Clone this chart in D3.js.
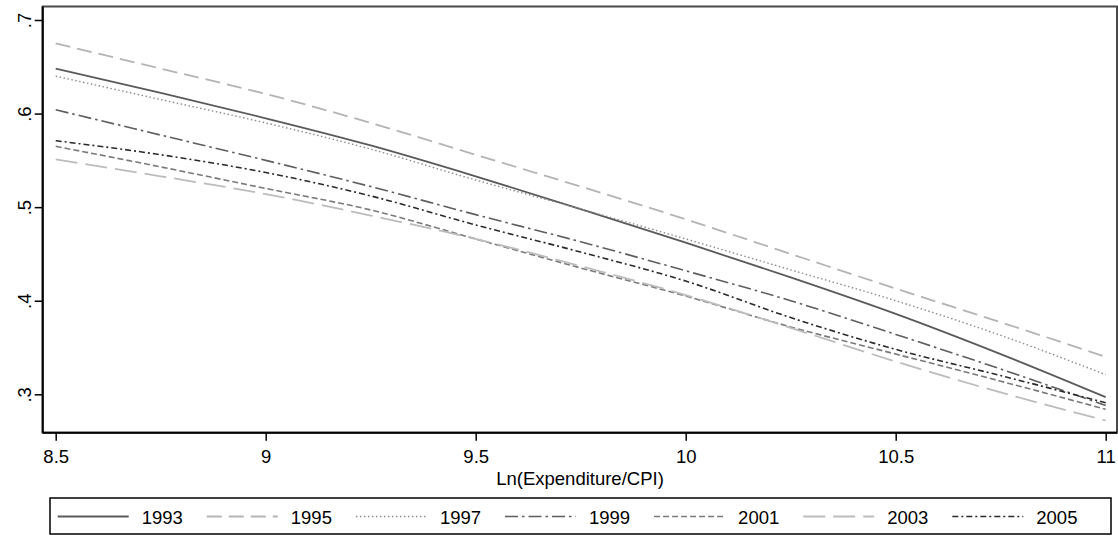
<!DOCTYPE html>
<html>
<head>
<meta charset="utf-8">
<script src="https://cdn.jsdelivr.net/npm/d3@7"></script>
<style>
  html, body { margin: 0; padding: 0; background: #fff; }
  svg { display: block; font-family: "Liberation Sans", Arial, sans-serif; }
</style>
</head>
<body>
<svg id="chart" width="1118" height="536"></svg>
<script>
// ---- data ----
const xValues = [8.5, 8.75, 9, 9.25, 9.5, 9.75, 10, 10.25, 10.5, 10.75, 11];
const s1993 = [0.648, 0.622, 0.595, 0.566, 0.533, 0.498, 0.462, 0.425, 0.386, 0.343, 0.297];
const s1995 = [0.675, 0.648, 0.621, 0.590, 0.556, 0.522, 0.487, 0.450, 0.413, 0.377, 0.340];
const s1997 = [0.640, 0.615, 0.590, 0.562, 0.529, 0.498, 0.466, 0.433, 0.400, 0.363, 0.321];
const s1999 = [0.604, 0.577, 0.550, 0.522, 0.492, 0.463, 0.432, 0.400, 0.364, 0.327, 0.288];
const s2001 = [0.565, 0.543, 0.520, 0.497, 0.466, 0.435, 0.405, 0.372, 0.343, 0.314, 0.284];
const s2003 = [0.551, 0.533, 0.514, 0.491, 0.466, 0.437, 0.406, 0.371, 0.335, 0.302, 0.272];
const s2005 = [0.571, 0.556, 0.537, 0.512, 0.481, 0.452, 0.421, 0.382, 0.348, 0.320, 0.291];
const seriesNames = ["1993", "1995", "1997", "1999", "2001", "2003", "2005"];
const xTicks = [8.5, 9, 9.5, 10, 10.5, 11];
const xTickLabels = ["8.5", "9", "9.5", "10", "10.5", "11"];
const yTicks = [0.3, 0.4, 0.5, 0.6, 0.7];
const yTickLabels = [".3", ".4", ".5", ".6", ".7"];
const xTitle = "Ln(Expenditure/CPI)";

const seriesValues = [s1993, s1995, s1997, s1999, s2001, s2003, s2005];
const styles = [
  { color: "#5a5a5a", dash: null, w: 1.8 },
  { color: "#b4b4b4", dash: "15,7", w: 1.8 },
  { color: "#8c8c8c", dash: "1.5,2.5", w: 1.4 },
  { color: "#5e5e5e", dash: "13,4,2.5,4", w: 1.6 },
  { color: "#7a7a7a", dash: "6,3", w: 1.6 },
  { color: "#bcbcbc", dash: "22,8", w: 1.8 },
  { color: "#2a2a2a", dash: "6,3,2,3", w: 1.6 }
];

// ---- layout ----
const svg = d3.select("#chart");
const plot = { left: 42.7, top: 6.5, right: 1117, bottom: 432.7 };

const x = d3.scaleLinear().domain([8.5, 11]).range([55.7, 1105.7]);
const y = d3.scaleLinear().domain([0.3, 0.7]).range([394.3, 20]);

svg.append("rect").attr("width", 1118).attr("height", 536).attr("fill", "#fff");

// frame (top & right)
svg.append("rect")
  .attr("x", plot.left).attr("y", plot.top)
  .attr("width", plot.right - plot.left).attr("height", plot.bottom - plot.top)
  .attr("fill", "none").attr("stroke", "#4a4a4a").attr("stroke-width", 2);

// lines
const line = d3.line()
  .x((d, i) => x(xValues[i]))
  .y(d => y(d))
  .curve(d3.curveMonotoneX);

seriesValues.forEach((vals, k) => {
  const st = styles[k];
  svg.append("path")
    .datum(vals)
    .attr("d", line)
    .attr("fill", "none")
    .attr("stroke", st.color)
    .attr("stroke-width", st.w)
    .attr("stroke-dasharray", st.dash);
});

// y axis
const yAxis = d3.axisLeft(y)
  .tickValues(yTicks)
  .tickFormat((d, i) => yTickLabels[i])
  .tickSize(8)
  .tickSizeOuter(0);
const gy = svg.append("g").attr("transform", `translate(${plot.left},0)`).call(yAxis);
gy.select(".domain").attr("stroke", "#000").attr("stroke-width", 2)
  .attr("d", `M0,${plot.top}V${plot.bottom}`);
gy.selectAll(".tick line").attr("stroke", "#000").attr("stroke-width", 1.5);
gy.selectAll(".tick text")
  .attr("transform", "rotate(-90)")
  .attr("x", 0).attr("y", -12).attr("dy", "0")
  .attr("text-anchor", "middle")
  .attr("fill", "#000")
  .style("font-size", "18.5px")
  .style("font-family", "'Liberation Sans', Arial, sans-serif");

// x axis
const xAxis = d3.axisBottom(x)
  .tickValues(xTicks)
  .tickFormat((d, i) => xTickLabels[i])
  .tickSize(8)
  .tickSizeOuter(0);
const gx = svg.append("g").attr("transform", `translate(0,${plot.bottom})`).call(xAxis);
gx.select(".domain").attr("stroke", "#000").attr("stroke-width", 2)
  .attr("d", `M${plot.left},0H${plot.right}`);
gx.selectAll(".tick line").attr("stroke", "#000").attr("stroke-width", 1.5);
gx.selectAll(".tick text")
  .attr("y", 30).attr("dy", "0")
  .attr("fill", "#000")
  .style("font-size", "18.5px")
  .style("font-family", "'Liberation Sans', Arial, sans-serif");

// x title
svg.append("text")
  .attr("x", 580).attr("y", 485)
  .attr("text-anchor", "middle")
  .style("font-size", "18.5px")
  .text(xTitle);

// legend
const lg = { x: 50, y: 498, w: 1061, h: 36 };
svg.append("rect")
  .attr("x", lg.x).attr("y", lg.y).attr("width", lg.w).attr("height", lg.h)
  .attr("fill", "#fff").attr("stroke", "#000").attr("stroke-width", 1.5);

const legendX = d3.scaleLinear().domain([0, 6]).range([57.7, 57.7 + 6 * 149.1]);
seriesNames.forEach((name, k) => {
  const st = styles[k];
  const x0 = legendX(k);
  svg.append("line")
    .attr("x1", x0).attr("x2", x0 + 71)
    .attr("y1", 516.5).attr("y2", 516.5)
    .attr("stroke", st.color)
    .attr("stroke-width", st.w)
    .attr("stroke-dasharray", st.dash);
  svg.append("text")
    .attr("x", x0 + 84).attr("y", 523.5)
    .style("font-size", "18.5px")
    .text(name);
});
</script>
</body>
</html>
